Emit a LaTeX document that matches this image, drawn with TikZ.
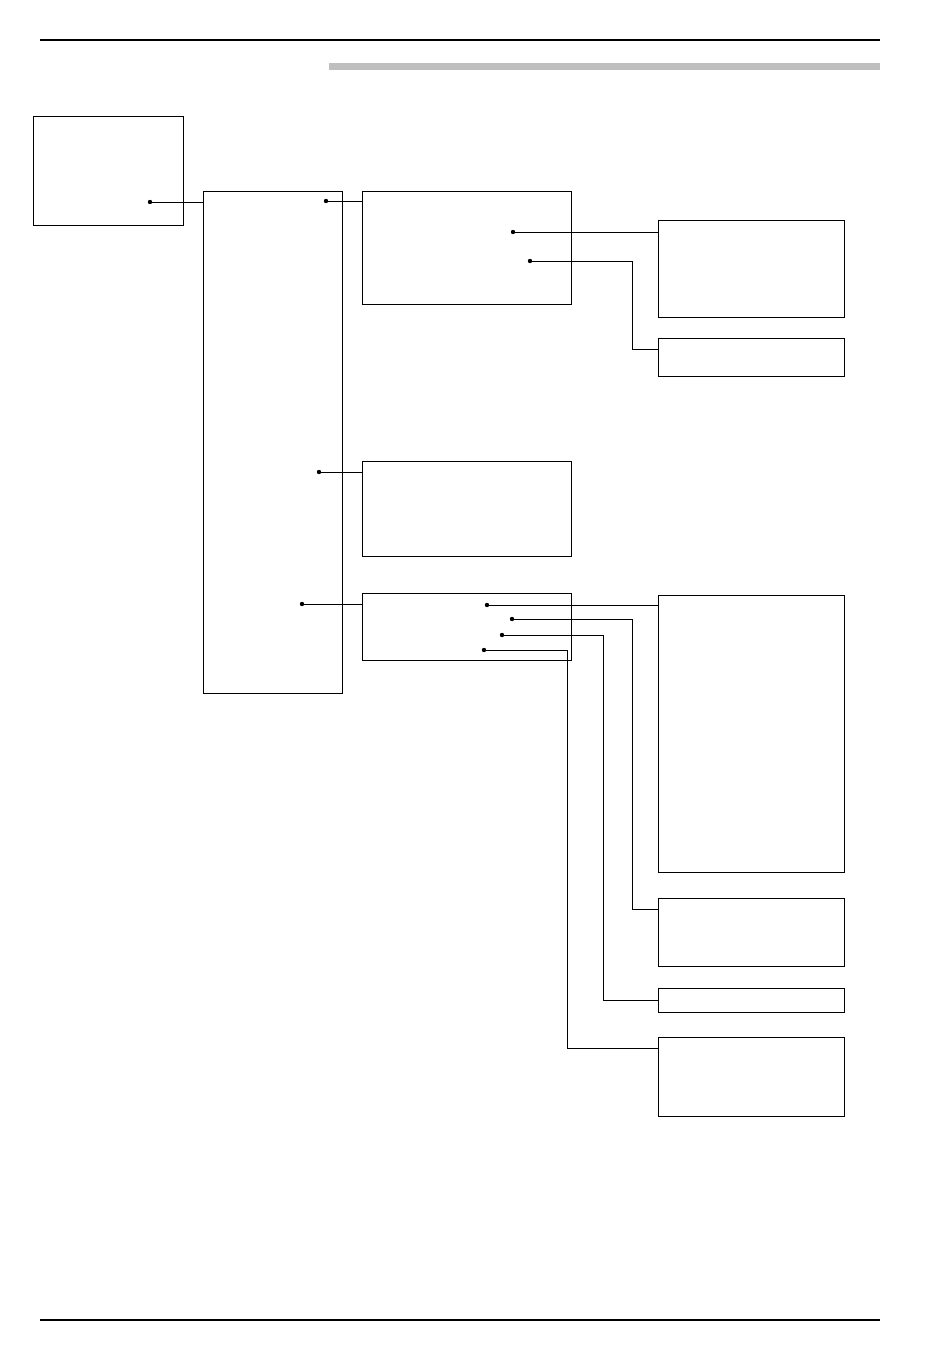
\documentclass[tikz,border=0pt]{standalone}
\begin{document}
\begin{tikzpicture}[x=1pt, y=-1pt, line width=0.9pt,
    box/.style={draw, inner sep=0pt, anchor=north west},
    every node/.style={font=\small}]
        \useasboundingbox (0,0) rectangle (950,1360);
        % page rules
        \draw[line width=2pt] (40,40) -- (880,40);
        \fill[gray!50] (329,63) rectangle (880,70);
        \draw[line width=2pt] (40,1320) -- (880,1320);
        % left part
        \node[box, minimum width=150pt, minimum height=109pt] (main) at (33,116) {};
        \node[box, minimum width=139pt, minimum height=502pt] (tall) at (203,191) {};
        \node[box, minimum width=209pt, minimum height=113pt] (upper) at (362,191) {};
        \node[box, minimum width=209pt, minimum height=95pt] (mid) at (362,461) {};
        \node[box, minimum width=209pt, minimum height=67pt] (low) at (362,593) {};
        % right column
        \foreach \n/\y/\h in {r1/220/97, r2/338/38, r3/595/277, r4/898/68, r5/988/24, r6/1037/79}
            \node[box, minimum width=186pt, minimum height=\h pt] (\n) at (658,\y) {};
        % dots
        \coordinate (m1) at (150,202);
        \coordinate (t1) at (326,201);
        \coordinate (t2) at (319,472);
        \coordinate (t3) at (302,604);
        \coordinate (u1) at (513,232);
        \coordinate (u2) at (530,261);
        \coordinate (l1) at (487,605);
        \coordinate (l2) at (512,619);
        \coordinate (l3) at (502,635);
        \coordinate (l4) at (484,650);
        \foreach \p in {m1,t1,t2,t3,u1,u2,l1,l2,l3,l4}
            \fill (\p) circle (2.2pt);
        % connectors
        \draw (m1) -- (m1 -| tall.west);
        \draw (t1) -- (t1 -| upper.west);
        \draw (t2) -- (t2 -| mid.west);
        \draw (t3) -- (t3 -| low.west);
        \draw (u1) -- (u1 -| r1.west);
        \draw (u2) -- (632,261) |- ([yshift=-11pt]r2.north west);
        \draw (l1) -- (l1 -| r3.west);
        \draw (l2) -- (632,619) |- ([yshift=-11pt]r4.north west);
        \draw (l3) -- (603.5,635) |- ([yshift=-12pt]r5.north west);
        \draw (l4) -- (567,650) |- ([yshift=-11pt]r6.north west);
    \end{tikzpicture}
\end{document}
